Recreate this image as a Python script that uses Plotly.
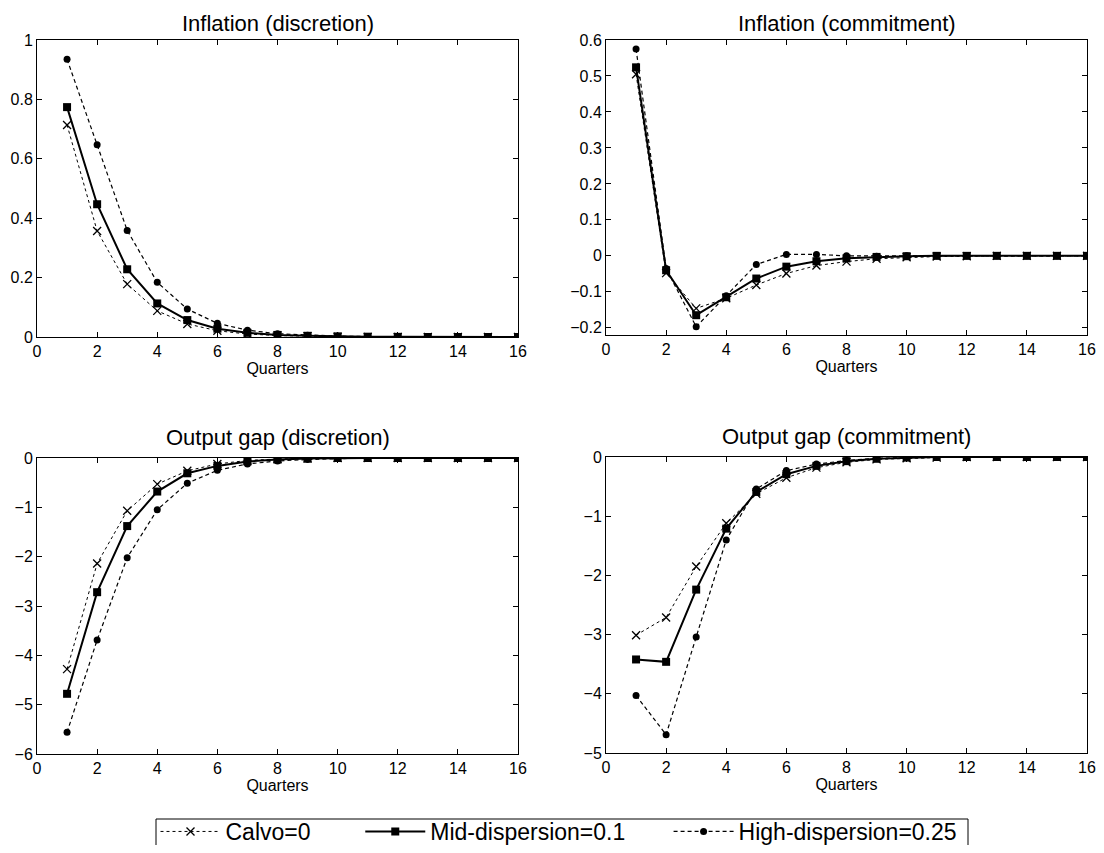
import plotly.graph_objects as go

quarters = list(range(1, 17))

# Inflation (discretion)
inf_disc_calvo = [0.714, 0.357, 0.178, 0.088, 0.044, 0.021, 0.010, 0.005, 0.003, 0.001, 0.0005, 0, 0, 0, 0, 0]
inf_disc_mid = [0.774, 0.447, 0.228, 0.113, 0.057, 0.028, 0.014, 0.007, 0.004, 0.002, 0.001, 0.0005, 0, 0, 0, 0]
inf_disc_high = [0.935, 0.647, 0.359, 0.184, 0.094, 0.046, 0.023, 0.011, 0.006, 0.003, 0.0015, 0.001, 0.0005, 0, 0, 0]

# Inflation (commitment)
inf_comm_calvo = [0.505, -0.048, -0.146, -0.118, -0.081, -0.049, -0.027, -0.016, -0.008, -0.004, -0.002, -0.001, 0, 0, 0, 0]
inf_comm_mid = [0.524, -0.040, -0.165, -0.115, -0.063, -0.030, -0.015, -0.007, -0.003, -0.001, 0, 0, 0, 0, 0, 0]
inf_comm_high = [0.575, -0.035, -0.197, -0.111, -0.024, 0.004, 0.004, 0.000, -0.001, 0, 0, 0, 0, 0, 0, 0]

# Output gap (discretion)
gap_disc_calvo = [-4.28, -2.14, -1.07, -0.53, -0.26, -0.12, -0.05, -0.02, -0.01, 0, 0, 0, 0, 0, 0, 0]
gap_disc_mid = [-4.78, -2.72, -1.38, -0.68, -0.31, -0.16, -0.07, -0.03, -0.01, 0, 0, 0, 0, 0, 0, 0]
gap_disc_high = [-5.56, -3.69, -2.02, -1.05, -0.51, -0.25, -0.12, -0.06, -0.03, -0.01, 0, 0, 0, 0, 0, 0]

# Output gap (commitment)
gap_comm_calvo = [-3.01, -2.71, -1.85, -1.12, -0.62, -0.35, -0.18, -0.09, -0.04, -0.02, -0.01, 0, 0, 0, 0, 0]
gap_comm_mid = [-3.42, -3.46, -2.24, -1.21, -0.59, -0.29, -0.15, -0.07, -0.03, -0.01, 0, 0, 0, 0, 0, 0]
gap_comm_high = [-4.03, -4.69, -3.04, -1.40, -0.54, -0.23, -0.12, -0.06, -0.02, -0.01, 0, 0, 0, 0, 0, 0]

series_names = ["Calvo=0", "Mid-dispersion=0.1", "High-dispersion=0.25"]
titles = ["Inflation (discretion)", "Inflation (commitment)",
          "Output gap (discretion)", "Output gap (commitment)"]

panels = [
    (inf_disc_calvo, inf_disc_mid, inf_disc_high),
    (inf_comm_calvo, inf_comm_mid, inf_comm_high),
    (gap_disc_calvo, gap_disc_mid, gap_disc_high),
    (gap_comm_calvo, gap_comm_mid, gap_comm_high),
]

OFF = 8  # page body margin
W, H = 1104 - 2 * OFF, 853 - 2 * OFF
# pixel boxes in screen coordinates (left, right, top, bottom)
boxes = [(37, 518, 40, 337), (606, 1087, 40, 335), (37, 518, 458, 754), (606, 1087, 457, 753)]
title_gap = [3, 3, 7, 7]
yranges = [[0, 1], [-0.22, 0.6], [-6, 0], [-5, 0]]
ydticks = [0.2, 0.1, 1, 1]

FONT = "Liberation Sans, Arial"
NB = "\u00a0"

styles = [
    dict(line=dict(color="black", width=1, dash="dot"),
         marker=dict(symbol="x-thin", size=8, line=dict(color="black", width=1.3), color="black")),
    dict(line=dict(color="black", width=2, dash="solid"),
         marker=dict(symbol="square", size=8, color="black")),
    dict(line=dict(color="black", width=1.2, dash="4px,3px"),
         marker=dict(symbol="circle", size=7, color="black")),
]
legend_pad = [NB * 7, NB * 6, NB * 1]

def px_x(v):
    return (v - OFF) / W

def px_y(v):
    return 1 - (v - OFF) / H

fig = go.Figure()
layout = {}
annotations = []
for i, (pdata, box, yr, dt) in enumerate(zip(panels, boxes, yranges, ydticks)):
    l, r, t, b = box
    xa = "xaxis" if i == 0 else f"xaxis{i+1}"
    ya = "yaxis" if i == 0 else f"yaxis{i+1}"
    xref = "x" if i == 0 else f"x{i+1}"
    yref = "y" if i == 0 else f"y{i+1}"
    for j, ys in enumerate(pdata):
        fig.add_trace(go.Scatter(x=quarters, y=ys, mode="lines+markers",
                                 name=series_names[j] + legend_pad[j],
                                 xaxis=xref, yaxis=yref, showlegend=(i == 0), **styles[j]))
    common = dict(showline=True, mirror="ticks", linecolor="black", linewidth=1,
                  ticks="inside", ticklen=5, tickcolor="black", showgrid=False, zeroline=False,
                  ticklabeloverflow="allow",
                  tickfont=dict(family=FONT, size=16, color="black"))
    layout[xa] = dict(domain=[px_x(l), px_x(r)], anchor=yref, range=[0, 16], tick0=0, dtick=2,
                      title=dict(text="Quarters", standoff=0,
                                 font=dict(family=FONT, size=16, color="black")),
                      **common)
    layout[ya] = dict(domain=[px_y(b), px_y(t)], anchor=xref, range=yr, dtick=dt,
                      **common)
    annotations.append(dict(text=titles[i], x=px_x((l + r) / 2), y=px_y(t - title_gap[i]),
                            xref="paper", yref="paper", xanchor="center", yanchor="bottom",
                            showarrow=False, borderpad=0,
                            font=dict(family=FONT, size=22, color="black")))

# legend frame (open at the bottom, as in the reference where it runs off the page)
legend_frame = dict(type="rect", xref="paper", yref="paper",
                    x0=px_x(156), x1=px_x(968), y0=px_y(880), y1=px_y(819),
                    line=dict(color="black", width=1), fillcolor="rgba(0,0,0,0)", layer="above")

fig.update_layout(
    width=W, height=H,
    margin=dict(l=0, r=0, t=0, b=0, autoexpand=False),
    paper_bgcolor="white", plot_bgcolor="white",
    annotations=annotations,
    shapes=[legend_frame],
    showlegend=True,
    legend=dict(orientation="h", x=px_x(562), xanchor="center", y=px_y(810), yanchor="top",
                borderwidth=0, bgcolor="rgba(0,0,0,0)",
                font=dict(family=FONT, size=23, color="black"),
                itemwidth=60, tracegroupgap=0),
    **layout,
)

fig.write_html("out.html")
